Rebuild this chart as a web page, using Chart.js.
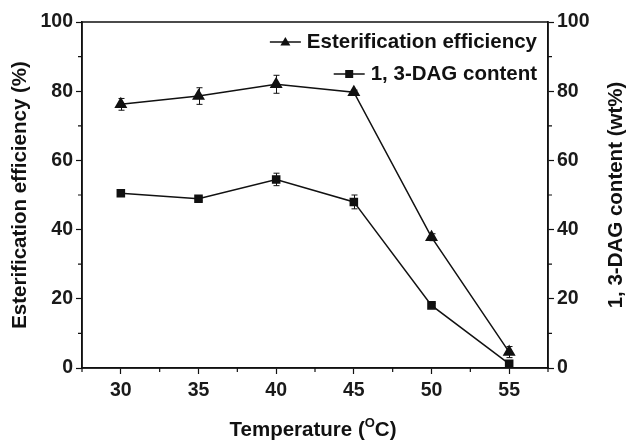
<!DOCTYPE html>
<html lang="en">
<head>
    <meta charset="UTF-8">
    <title>Esterification vs Temperature</title>
    <script src="https://cdn.jsdelivr.net/npm/chart.js"></script>
    <style>
        html, body { margin: 0; padding: 0; background: #fff; }
        .chart-container { position: relative; width: 626px; height: 441px; }
    </style>
</head>
<body>
    <div class="chart-container">
        <canvas id="chart"></canvas>
    </div>

    <script>
        // data
        const temperatures = [30, 35, 40, 45, 50, 55];
        const esterification = [76.2, 78.6, 82.0, 79.7, 37.8, 4.6];
        const esterificationErr = [1.7, 2.4, 2.6, 0.6, 1.0, 1.6];
        const dagContent = [50.5, 48.9, 54.5, 48.0, 18.1, 1.2];
        const dagContentErr = [0.6, 0.6, 1.8, 2.0, 0.6, 0.6];

        const xTicks = [30, 35, 40, 45, 50, 55];
        const xMinorTicks = [27.5, 32.5, 37.5, 42.5, 47.5, 52.5, 57.5];
        const yTicks = [0, 20, 40, 60, 80, 100];
        const yMinorTicks = [10, 30, 50, 70, 90];

        const FONT = 'Liberation Sans, Arial, sans-serif';
        const ctx = document.getElementById('chart').getContext('2d');

        const points = (vals) => temperatures.map((t, i) => ({ x: t, y: vals[i] }));

        const fixTicks = (vals) => (scale) => {
            scale.ticks = vals.map(v => ({ value: v }));
        };

        // error bars, minor ticks, frame, legend and axis titles
        const extras = {
            id: 'extras',
            afterDatasetsDraw(chart) {
                const c = chart.ctx;
                const area = chart.chartArea;
                const xs = chart.scales.x;
                c.save();
                c.strokeStyle = '#111';
                c.fillStyle = '#111';

                // error bars
                c.lineWidth = 1;
                chart.data.datasets.forEach((ds) => {
                    const ys = chart.scales[ds.yAxisID];
                    ds.data.forEach((p, i) => {
                        const e = ds.errors[i];
                        const px = Math.round(xs.getPixelForValue(p.x)) + 0.5;
                        const top = ys.getPixelForValue(p.y + e);
                        const bot = ys.getPixelForValue(p.y - e);
                        c.beginPath();
                        c.moveTo(px, top); c.lineTo(px, bot);
                        c.moveTo(px - 3, top); c.lineTo(px + 3, top);
                        c.moveTo(px - 3, bot); c.lineTo(px + 3, bot);
                        c.stroke();
                    });
                });

                // frame
                c.lineWidth = 1.5;
                c.strokeRect(area.left, area.top, area.right - area.left, area.bottom - area.top);

                // minor ticks
                c.lineWidth = 1.2;
                c.beginPath();
                xMinorTicks.forEach(v => {
                    const px = xs.getPixelForValue(v);
                    c.moveTo(px, area.bottom); c.lineTo(px, area.bottom + 4);
                });
                yMinorTicks.forEach(v => {
                    const py = chart.scales.y.getPixelForValue(v);
                    c.moveTo(area.left, py); c.lineTo(area.left - 4, py);
                    c.moveTo(area.right, py); c.lineTo(area.right + 4, py);
                });
                c.stroke();

                // legend
                c.font = 'bold 20.5px ' + FONT;
                c.textAlign = 'right';
                c.textBaseline = 'middle';
                const legendRight = 537;
                const rows = [42, 74];
                chart.data.datasets.forEach((ds, i) => {
                    const y = rows[i];
                    c.fillText(ds.label, legendRight, y);
                    const w = c.measureText(ds.label).width;
                    const x1 = legendRight - w - 6;
                    const x0 = x1 - 31;
                    c.lineWidth = 1.5;
                    c.beginPath();
                    c.moveTo(x0, y); c.lineTo(x1, y);
                    c.stroke();
                    const cx = (x0 + x1) / 2;
                    c.beginPath();
                    if (ds.pointStyle === 'triangle') {
                        c.moveTo(cx, y - 5); c.lineTo(cx + 5, y + 3.5); c.lineTo(cx - 5, y + 3.5);
                    } else {
                        c.rect(cx - 4, y - 4, 8, 8);
                    }
                    c.closePath();
                    c.fill();
                });

                // axis titles
                const midY = (area.top + area.bottom) / 2;
                c.textAlign = 'center';
                c.save();
                c.translate(20, midY);
                c.rotate(-Math.PI / 2);
                c.fillText('Esterification efficiency (%)', 0, 0);
                c.restore();

                c.save();
                c.translate(616, midY);
                c.rotate(-Math.PI / 2);
                c.fillText('1, 3-DAG content (wt%)', 0, 0);
                c.restore();

                // x title with superscript O
                const partA = 'Temperature (';
                const partB = 'C)';
                c.font = 'bold 20.5px ' + FONT;
                const wA = c.measureText(partA).width;
                const wB = c.measureText(partB).width;
                c.font = 'bold 13px ' + FONT;
                const wO = c.measureText('O').width;
                const total = wA + wO + wB;
                let tx = (area.left + area.right) / 2 - total / 2 - 2;
                const ty = 430;
                c.textAlign = 'left';
                c.font = 'bold 20.5px ' + FONT;
                c.fillText(partA, tx, ty);
                tx += wA;
                c.font = 'bold 13px ' + FONT;
                c.fillText('O', tx, ty - 7);
                tx += wO;
                c.font = 'bold 20.5px ' + FONT;
                c.fillText(partB, tx, ty);

                c.restore();
            }
        };

        const tickFont = { family: FONT, size: 19.5, weight: 'bold' };

        const chart = new Chart(ctx, {
            type: 'line',
            data: {
                datasets: [{
                    label: 'Esterification efficiency',
                    data: points(esterification),
                    errors: esterificationErr,
                    yAxisID: 'y',
                    borderColor: '#111',
                    backgroundColor: '#111',
                    borderWidth: 1.5,
                    pointStyle: 'triangle',
                    pointRadius: 6,
                    tension: 0,
                }, {
                    label: '1, 3-DAG content',
                    data: points(dagContent),
                    errors: dagContentErr,
                    yAxisID: 'y1',
                    borderColor: '#111',
                    backgroundColor: '#111',
                    borderWidth: 1.5,
                    pointStyle: 'rect',
                    pointRadius: 5,
                    tension: 0,
                }]
            },
            options: {
                responsive: true,
                maintainAspectRatio: false,
                animation: false,
                layout: { padding: { top: 22, left: 0, right: 0, bottom: 0 } },
                scales: {
                    x: {
                        type: 'linear',
                        min: 27.5,
                        max: 57.5,
                        afterBuildTicks: fixTicks(xTicks),
                        afterFit: (s) => { s.height = 73; },
                        border: { color: '#111', width: 1.5 },
                        grid: { drawOnChartArea: false, tickLength: 6, tickColor: '#111', tickWidth: 1.2 },
                        ticks: { color: '#1a1a1a', font: tickFont, padding: 5, maxRotation: 0 }
                    },
                    y: {
                        position: 'left',
                        min: 0,
                        max: 100,
                        afterBuildTicks: fixTicks(yTicks),
                        afterFit: (s) => { s.width = 82; },
                        border: { color: '#111', width: 1.5 },
                        grid: { drawOnChartArea: false, tickLength: 6, tickColor: '#111', tickWidth: 1.2 },
                        ticks: { color: '#1a1a1a', font: tickFont, padding: 3 }
                    },
                    y1: {
                        position: 'right',
                        min: 0,
                        max: 100,
                        afterBuildTicks: fixTicks(yTicks),
                        afterFit: (s) => { s.width = 78; },
                        border: { color: '#111', width: 1.5 },
                        grid: { drawOnChartArea: false, tickLength: 6, tickColor: '#111', tickWidth: 1.2 },
                        ticks: { color: '#1a1a1a', font: tickFont, padding: 3 }
                    }
                },
                plugins: {
                    legend: { display: false },
                    tooltip: { enabled: false }
                }
            },
            plugins: [extras]
        });
    </script>
</body>
</html>
